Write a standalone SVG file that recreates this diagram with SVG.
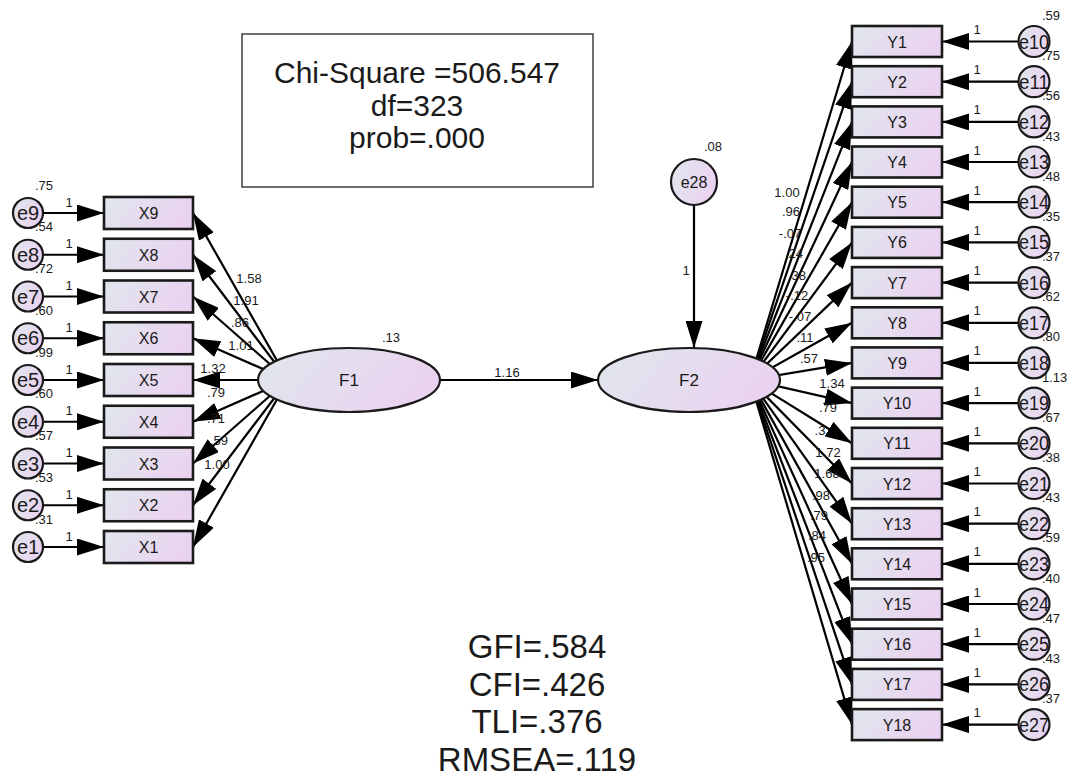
<svg xmlns="http://www.w3.org/2000/svg" width="1072" height="782" viewBox="0 0 1072 782">
<style>
.t{font-family:"Liberation Sans",Arial,sans-serif;fill:#1a1a1a}
.n{font-size:16px;text-anchor:middle}
.e{font-size:20px;text-anchor:middle}
.s{font-size:13px}
.m{text-anchor:middle}
.box{fill:url(#g);stroke:#1a1a1a;stroke-width:2.6}
.c{fill:url(#g);stroke:#1a1a1a;stroke-width:2.2}
.ln{stroke:#000;stroke-width:2.2;fill:none;marker-end:url(#ah)}
</style>
<defs>
<linearGradient id="g" x1="0" y1="0" x2="1" y2="0.3">
<stop offset="0" stop-color="#e0e7ed"/>
<stop offset="1" stop-color="#ead3f0"/>
</linearGradient>
<marker id="ah" markerUnits="userSpaceOnUse" viewBox="0 0 27 17" refX="27" refY="8.5" markerWidth="27" markerHeight="17" orient="auto">
<path d="M0,0 L27,8.5 L0,17 Z" fill="#000"/>
</marker>
</defs>
<rect width="1072" height="782" fill="#fff"/>

<g id="connectors">
<line class="ln" x1="43" y1="213" x2="104" y2="213"/>
<line class="ln" x1="43" y1="254.75" x2="104" y2="254.75"/>
<line class="ln" x1="43" y1="296.5" x2="104" y2="296.5"/>
<line class="ln" x1="43" y1="338.25" x2="104" y2="338.25"/>
<line class="ln" x1="43" y1="380" x2="104" y2="380"/>
<line class="ln" x1="43" y1="421.75" x2="104" y2="421.75"/>
<line class="ln" x1="43" y1="463.5" x2="104" y2="463.5"/>
<line class="ln" x1="43" y1="505.25" x2="104" y2="505.25"/>
<line class="ln" x1="43" y1="547" x2="104" y2="547"/>
<line class="ln" x1="288" y1="380" x2="193" y2="213"/>
<line class="ln" x1="288" y1="380" x2="193" y2="254.75"/>
<line class="ln" x1="288" y1="380" x2="193" y2="296.5"/>
<line class="ln" x1="288" y1="380" x2="193" y2="338.25"/>
<line class="ln" x1="288" y1="380" x2="193" y2="380"/>
<line class="ln" x1="288" y1="380" x2="193" y2="421.75"/>
<line class="ln" x1="288" y1="380" x2="193" y2="463.5"/>
<line class="ln" x1="288" y1="380" x2="193" y2="505.25"/>
<line class="ln" x1="288" y1="380" x2="193" y2="547"/>
<line class="ln" x1="440" y1="380" x2="598" y2="380"/>
<line class="ln" x1="694" y1="205" x2="694" y2="348"/>
<line class="ln" x1="750" y1="380" x2="852" y2="41.5"/>
<line class="ln" x1="750" y1="380" x2="852" y2="81.7"/>
<line class="ln" x1="750" y1="380" x2="852" y2="121.9"/>
<line class="ln" x1="750" y1="380" x2="852" y2="162"/>
<line class="ln" x1="750" y1="380" x2="852" y2="202.2"/>
<line class="ln" x1="750" y1="380" x2="852" y2="242.4"/>
<line class="ln" x1="750" y1="380" x2="852" y2="282.6"/>
<line class="ln" x1="750" y1="380" x2="852" y2="322.8"/>
<line class="ln" x1="750" y1="380" x2="852" y2="362.9"/>
<line class="ln" x1="750" y1="380" x2="852" y2="403.1"/>
<line class="ln" x1="750" y1="380" x2="852" y2="443.3"/>
<line class="ln" x1="750" y1="380" x2="852" y2="483.5"/>
<line class="ln" x1="750" y1="380" x2="852" y2="523.7"/>
<line class="ln" x1="750" y1="380" x2="852" y2="563.8"/>
<line class="ln" x1="750" y1="380" x2="852" y2="604"/>
<line class="ln" x1="750" y1="380" x2="852" y2="644.2"/>
<line class="ln" x1="750" y1="380" x2="852" y2="684.4"/>
<line class="ln" x1="750" y1="380" x2="852" y2="724.6"/>
<line class="ln" x1="1018.5" y1="41.5" x2="942" y2="41.5"/>
<line class="ln" x1="1018.5" y1="81.7" x2="942" y2="81.7"/>
<line class="ln" x1="1018.5" y1="121.9" x2="942" y2="121.9"/>
<line class="ln" x1="1018.5" y1="162" x2="942" y2="162"/>
<line class="ln" x1="1018.5" y1="202.2" x2="942" y2="202.2"/>
<line class="ln" x1="1018.5" y1="242.4" x2="942" y2="242.4"/>
<line class="ln" x1="1018.5" y1="282.6" x2="942" y2="282.6"/>
<line class="ln" x1="1018.5" y1="322.8" x2="942" y2="322.8"/>
<line class="ln" x1="1018.5" y1="362.9" x2="942" y2="362.9"/>
<line class="ln" x1="1018.5" y1="403.1" x2="942" y2="403.1"/>
<line class="ln" x1="1018.5" y1="443.3" x2="942" y2="443.3"/>
<line class="ln" x1="1018.5" y1="483.5" x2="942" y2="483.5"/>
<line class="ln" x1="1018.5" y1="523.7" x2="942" y2="523.7"/>
<line class="ln" x1="1018.5" y1="563.8" x2="942" y2="563.8"/>
<line class="ln" x1="1018.5" y1="604" x2="942" y2="604"/>
<line class="ln" x1="1018.5" y1="644.2" x2="942" y2="644.2"/>
<line class="ln" x1="1018.5" y1="684.4" x2="942" y2="684.4"/>
<line class="ln" x1="1018.5" y1="724.6" x2="942" y2="724.6"/>
</g>

<g id="chi-box">
<rect x="242" y="34" width="351" height="153" fill="#fff" stroke="#222" stroke-width="1.3"/>
<text class="t m" x="417" y="83" font-size="30">Chi-Square =506.547</text>
<text class="t m" x="417" y="116" font-size="30">df=323</text>
<text class="t m" x="417" y="148" font-size="30">prob=.000</text>
</g>

<g id="F1"><ellipse class="c" cx="349" cy="380" rx="91" ry="32"/><text class="t m" x="349" y="386" font-size="17">F1</text></g>
<g id="F2"><ellipse class="c" cx="689" cy="380" rx="91" ry="32"/><text class="t m" x="689" y="386" font-size="17">F2</text></g>
<g id="e28"><circle class="c" cx="694" cy="182" r="23"/><text class="t m" x="694" y="188" font-size="16">e28</text></g>

<g id="X9"><rect class="box" x="104" y="197" width="89" height="32"/><text class="t n" x="148.5" y="219">X9</text></g>
<g id="X8"><rect class="box" x="104" y="238.75" width="89" height="32"/><text class="t n" x="148.5" y="260.75">X8</text></g>
<g id="X7"><rect class="box" x="104" y="280.5" width="89" height="32"/><text class="t n" x="148.5" y="302.5">X7</text></g>
<g id="X6"><rect class="box" x="104" y="322.25" width="89" height="32"/><text class="t n" x="148.5" y="344.25">X6</text></g>
<g id="X5"><rect class="box" x="104" y="364" width="89" height="32"/><text class="t n" x="148.5" y="386">X5</text></g>
<g id="X4"><rect class="box" x="104" y="405.75" width="89" height="32"/><text class="t n" x="148.5" y="427.75">X4</text></g>
<g id="X3"><rect class="box" x="104" y="447.5" width="89" height="32"/><text class="t n" x="148.5" y="469.5">X3</text></g>
<g id="X2"><rect class="box" x="104" y="489.25" width="89" height="32"/><text class="t n" x="148.5" y="511.25">X2</text></g>
<g id="X1"><rect class="box" x="104" y="531" width="89" height="32"/><text class="t n" x="148.5" y="553">X1</text></g>

<g id="e9"><circle class="c" cx="28" cy="213" r="15"/><text class="t e" x="28" y="220">e9</text></g>
<g id="e8"><circle class="c" cx="28" cy="254.75" r="15"/><text class="t e" x="28" y="261.75">e8</text></g>
<g id="e7"><circle class="c" cx="28" cy="296.5" r="15"/><text class="t e" x="28" y="303.5">e7</text></g>
<g id="e6"><circle class="c" cx="28" cy="338.25" r="15"/><text class="t e" x="28" y="345.25">e6</text></g>
<g id="e5"><circle class="c" cx="28" cy="380" r="15"/><text class="t e" x="28" y="387">e5</text></g>
<g id="e4"><circle class="c" cx="28" cy="421.75" r="15"/><text class="t e" x="28" y="428.75">e4</text></g>
<g id="e3"><circle class="c" cx="28" cy="463.5" r="15"/><text class="t e" x="28" y="470.5">e3</text></g>
<g id="e2"><circle class="c" cx="28" cy="505.25" r="15"/><text class="t e" x="28" y="512.25">e2</text></g>
<g id="e1"><circle class="c" cx="28" cy="547" r="15"/><text class="t e" x="28" y="554">e1</text></g>

<g id="Y1"><rect class="box" x="852" y="26" width="90" height="31"/><text class="t n" x="897" y="47.5">Y1</text></g>
<g id="Y2"><rect class="box" x="852" y="66.2" width="90" height="31"/><text class="t n" x="897" y="87.7">Y2</text></g>
<g id="Y3"><rect class="box" x="852" y="106.4" width="90" height="31"/><text class="t n" x="897" y="127.9">Y3</text></g>
<g id="Y4"><rect class="box" x="852" y="146.5" width="90" height="31"/><text class="t n" x="897" y="168">Y4</text></g>
<g id="Y5"><rect class="box" x="852" y="186.7" width="90" height="31"/><text class="t n" x="897" y="208.2">Y5</text></g>
<g id="Y6"><rect class="box" x="852" y="226.9" width="90" height="31"/><text class="t n" x="897" y="248.4">Y6</text></g>
<g id="Y7"><rect class="box" x="852" y="267.1" width="90" height="31"/><text class="t n" x="897" y="288.6">Y7</text></g>
<g id="Y8"><rect class="box" x="852" y="307.3" width="90" height="31"/><text class="t n" x="897" y="328.8">Y8</text></g>
<g id="Y9"><rect class="box" x="852" y="347.4" width="90" height="31"/><text class="t n" x="897" y="368.9">Y9</text></g>
<g id="Y10"><rect class="box" x="852" y="387.6" width="90" height="31"/><text class="t n" x="897" y="409.1">Y10</text></g>
<g id="Y11"><rect class="box" x="852" y="427.8" width="90" height="31"/><text class="t n" x="897" y="449.3">Y11</text></g>
<g id="Y12"><rect class="box" x="852" y="468" width="90" height="31"/><text class="t n" x="897" y="489.5">Y12</text></g>
<g id="Y13"><rect class="box" x="852" y="508.2" width="90" height="31"/><text class="t n" x="897" y="529.7">Y13</text></g>
<g id="Y14"><rect class="box" x="852" y="548.3" width="90" height="31"/><text class="t n" x="897" y="569.8">Y14</text></g>
<g id="Y15"><rect class="box" x="852" y="588.5" width="90" height="31"/><text class="t n" x="897" y="610">Y15</text></g>
<g id="Y16"><rect class="box" x="852" y="628.7" width="90" height="31"/><text class="t n" x="897" y="650.2">Y16</text></g>
<g id="Y17"><rect class="box" x="852" y="668.9" width="90" height="31"/><text class="t n" x="897" y="690.4">Y17</text></g>
<g id="Y18"><rect class="box" x="852" y="709.1" width="90" height="31"/><text class="t n" x="897" y="730.6">Y18</text></g>

<g id="e10"><circle class="c" cx="1034" cy="41.5" r="15.5"/><text class="t e" x="1034" y="48.5" textLength="30" lengthAdjust="spacingAndGlyphs">e10</text></g>
<g id="e11"><circle class="c" cx="1034" cy="81.7" r="15.5"/><text class="t e" x="1034" y="88.7" textLength="30" lengthAdjust="spacingAndGlyphs">e11</text></g>
<g id="e12"><circle class="c" cx="1034" cy="121.9" r="15.5"/><text class="t e" x="1034" y="128.9" textLength="30" lengthAdjust="spacingAndGlyphs">e12</text></g>
<g id="e13"><circle class="c" cx="1034" cy="162" r="15.5"/><text class="t e" x="1034" y="169" textLength="30" lengthAdjust="spacingAndGlyphs">e13</text></g>
<g id="e14"><circle class="c" cx="1034" cy="202.2" r="15.5"/><text class="t e" x="1034" y="209.2" textLength="30" lengthAdjust="spacingAndGlyphs">e14</text></g>
<g id="e15"><circle class="c" cx="1034" cy="242.4" r="15.5"/><text class="t e" x="1034" y="249.4" textLength="30" lengthAdjust="spacingAndGlyphs">e15</text></g>
<g id="e16"><circle class="c" cx="1034" cy="282.6" r="15.5"/><text class="t e" x="1034" y="289.6" textLength="30" lengthAdjust="spacingAndGlyphs">e16</text></g>
<g id="e17"><circle class="c" cx="1034" cy="322.8" r="15.5"/><text class="t e" x="1034" y="329.8" textLength="30" lengthAdjust="spacingAndGlyphs">e17</text></g>
<g id="e18"><circle class="c" cx="1034" cy="362.9" r="15.5"/><text class="t e" x="1034" y="369.9" textLength="30" lengthAdjust="spacingAndGlyphs">e18</text></g>
<g id="e19"><circle class="c" cx="1034" cy="403.1" r="15.5"/><text class="t e" x="1034" y="410.1" textLength="30" lengthAdjust="spacingAndGlyphs">e19</text></g>
<g id="e20"><circle class="c" cx="1034" cy="443.3" r="15.5"/><text class="t e" x="1034" y="450.3" textLength="30" lengthAdjust="spacingAndGlyphs">e20</text></g>
<g id="e21"><circle class="c" cx="1034" cy="483.5" r="15.5"/><text class="t e" x="1034" y="490.5" textLength="30" lengthAdjust="spacingAndGlyphs">e21</text></g>
<g id="e22"><circle class="c" cx="1034" cy="523.7" r="15.5"/><text class="t e" x="1034" y="530.7" textLength="30" lengthAdjust="spacingAndGlyphs">e22</text></g>
<g id="e23"><circle class="c" cx="1034" cy="563.8" r="15.5"/><text class="t e" x="1034" y="570.8" textLength="30" lengthAdjust="spacingAndGlyphs">e23</text></g>
<g id="e24"><circle class="c" cx="1034" cy="604" r="15.5"/><text class="t e" x="1034" y="611" textLength="30" lengthAdjust="spacingAndGlyphs">e24</text></g>
<g id="e25"><circle class="c" cx="1034" cy="644.2" r="15.5"/><text class="t e" x="1034" y="651.2" textLength="30" lengthAdjust="spacingAndGlyphs">e25</text></g>
<g id="e26"><circle class="c" cx="1034" cy="684.4" r="15.5"/><text class="t e" x="1034" y="691.4" textLength="30" lengthAdjust="spacingAndGlyphs">e26</text></g>
<g id="e27"><circle class="c" cx="1034" cy="724.6" r="15.5"/><text class="t e" x="1034" y="731.6" textLength="30" lengthAdjust="spacingAndGlyphs">e27</text></g>

<g id="labels" class="t s">
<text class="m" x="44" y="189.5">.75</text>
<text class="m" x="44" y="231.25">.54</text>
<text class="m" x="44" y="273">.72</text>
<text class="m" x="44" y="314.75">.60</text>
<text class="m" x="44" y="356.5">.99</text>
<text class="m" x="44" y="398.25">.60</text>
<text class="m" x="44" y="440">.57</text>
<text class="m" x="44" y="481.75">.53</text>
<text class="m" x="44" y="523.5">.31</text>
<text class="m" x="69" y="206.5">1</text>
<text class="m" x="69" y="248.25">1</text>
<text class="m" x="69" y="290">1</text>
<text class="m" x="69" y="331.75">1</text>
<text class="m" x="69" y="373.5">1</text>
<text class="m" x="69" y="415.25">1</text>
<text class="m" x="69" y="457">1</text>
<text class="m" x="69" y="498.75">1</text>
<text class="m" x="69" y="540.5">1</text>
<text class="m" x="249" y="282.5">1.58</text>
<text class="m" x="246" y="304.5">1.91</text>
<text class="m" x="240" y="326.5">.86</text>
<text class="m" x="241" y="349.5">1.01</text>
<text class="m" x="213" y="372.5">1.32</text>
<text class="m" x="216" y="396.5">.79</text>
<text class="m" x="216" y="422.5">.71</text>
<text class="m" x="219" y="444.5">.59</text>
<text class="m" x="217" y="468.5">1.00</text>
<text class="m" x="391" y="341.5">.13</text>
<text class="m" x="507" y="376.5">1.16</text>
<text class="m" x="713" y="150.5">.08</text>
<text class="m" x="686" y="274.5">1</text>
<text class="m" x="787" y="196.5">1.00</text>
<text class="m" x="791" y="215.5">.96</text>
<text class="m" x="790" y="237.5">-.07</text>
<text class="m" x="794" y="257.5">.24</text>
<text class="m" x="797" y="279.5">.38</text>
<text class="m" x="797" y="299.5">-.12</text>
<text class="m" x="800" y="320.5">-.07</text>
<text class="m" x="805" y="341.5">.11</text>
<text class="m" x="809" y="362.5">.57</text>
<text class="m" x="832" y="387.5">1.34</text>
<text class="m" x="828" y="411.5">.79</text>
<text class="m" x="820" y="434.5">.3</text>
<text class="m" x="828" y="456.5">1.72</text>
<text class="m" x="827" y="477.5">1.68</text>
<text class="m" x="821" y="499.5">.98</text>
<text class="m" x="819" y="519.5">.79</text>
<text class="m" x="817" y="539.5">.84</text>
<text class="m" x="816" y="561.5">.95</text>
<text class="m" x="977" y="34">1</text>
<text class="m" x="977" y="74.2">1</text>
<text class="m" x="977" y="114.4">1</text>
<text class="m" x="977" y="154.5">1</text>
<text class="m" x="977" y="194.7">1</text>
<text class="m" x="977" y="234.9">1</text>
<text class="m" x="977" y="275.1">1</text>
<text class="m" x="977" y="315.3">1</text>
<text class="m" x="977" y="355.4">1</text>
<text class="m" x="977" y="395.6">1</text>
<text class="m" x="977" y="435.8">1</text>
<text class="m" x="977" y="476">1</text>
<text class="m" x="977" y="516.2">1</text>
<text class="m" x="977" y="556.3">1</text>
<text class="m" x="977" y="596.5">1</text>
<text class="m" x="977" y="636.7">1</text>
<text class="m" x="977" y="676.9">1</text>
<text class="m" x="977" y="717.1">1</text>
<text x="1042" y="20">.59</text>
<text x="1042" y="60.2">.75</text>
<text x="1042" y="100.4">.56</text>
<text x="1042" y="140.5">.43</text>
<text x="1042" y="180.7">.48</text>
<text x="1042" y="220.9">.35</text>
<text x="1042" y="261.1">.37</text>
<text x="1042" y="301.3">.62</text>
<text x="1042" y="341.4">.80</text>
<text x="1042" y="381.6">1.13</text>
<text x="1042" y="421.8">.67</text>
<text x="1042" y="462">.38</text>
<text x="1042" y="502.2">.43</text>
<text x="1042" y="542.3">.59</text>
<text x="1042" y="582.5">.40</text>
<text x="1042" y="622.7">.47</text>
<text x="1042" y="662.9">.43</text>
<text x="1042" y="703.1">.37</text>
</g>

<g id="fit-indices" class="t" font-size="33" text-anchor="middle">
<text x="537" y="658">GFI=.584</text>
<text x="537" y="696">CFI=.426</text>
<text x="537" y="733">TLI=.376</text>
<text x="537" y="771">RMSEA=.119</text>
</g>
</svg>
